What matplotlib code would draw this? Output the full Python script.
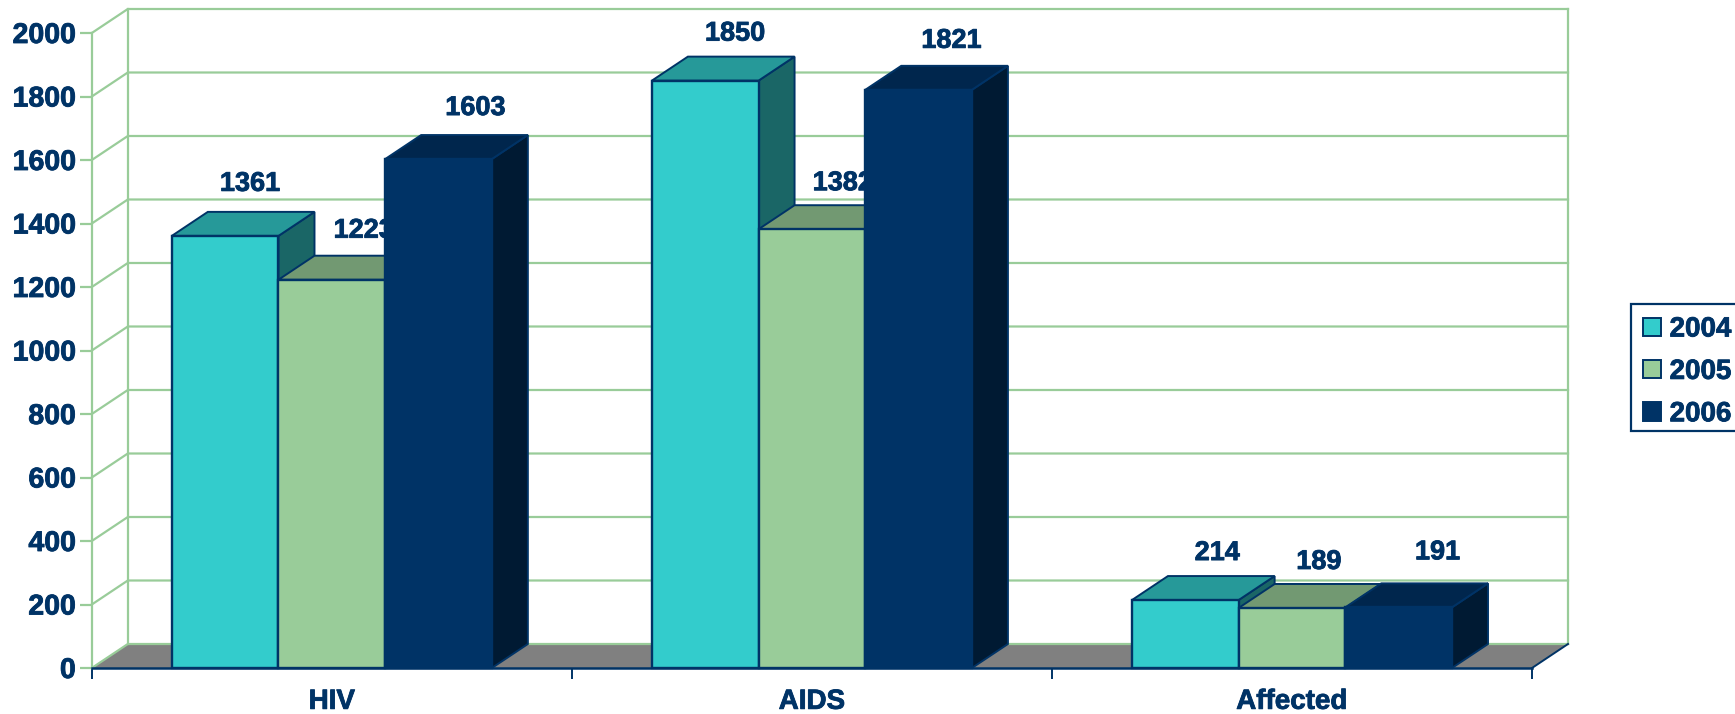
import matplotlib
matplotlib.use('Agg')
import matplotlib.pyplot as plt
import matplotlib.patheffects as pe
from matplotlib.patches import Patch, Rectangle

categories = ['HIV', 'AIDS', 'Affected']
years = ['2004', '2005', '2006']
values_2004 = [1361, 1850, 214]
values_2005 = [1223, 1382, 189]
values_2006 = [1603, 1821, 191]
y_ticks = [0, 200, 400, 600, 800, 1000, 1200, 1400, 1600, 1800, 2000]

NAVY = '#003366'
GRID = '#99CC99'
FLOOR = '#808080'
front_colors = ['#33CCCC', '#99CC99', '#003366']
top_colors = ['#269999', '#729972', '#00264D']
side_colors = ['#1A6666', '#4D664D', '#001A33']

W, H = 1735, 714
left, right, top, bottom = 91.8, 1532, 33, 668
DEPTH_X = 36 / 480            # category units
DEPTH_Y = 24 / 635 * 2000     # value units
BAR_W = 1 / 4.5
GRID_LW = 1.6
heavy = [pe.withStroke(linewidth=0.6, foreground=NAVY)]

# pixel nudges for the value labels, per series then per category
label_dx = [[25, 30, 32], [32, 31, 27], [37, 33, 39]]
label_dy = [[52, 47, 47], [49, 46, 46], [51, 49, 55]]

plt.rcParams['font.family'] = ['Liberation Sans', 'DejaVu Sans']
plt.rcParams['font.weight'] = 'bold'

fig = plt.figure(figsize=(W / 100, H / 100), dpi=100)
ax = fig.add_axes([left / W, 1 - bottom / H, (right - left) / W, (bottom - top) / H])
ax.set_xlim(0, 3)
ax.set_ylim(0, 2000)
for s in ax.spines.values():
    s.set_visible(False)
ax.patch.set_visible(False)

# back walls and floor
ax.fill([0, 3, 3 + DEPTH_X, DEPTH_X], [0, 0, DEPTH_Y, DEPTH_Y], color=FLOOR, lw=0, zorder=1, clip_on=False)
for v in y_ticks:
    ax.plot([0, DEPTH_X, 3 + DEPTH_X], [v, v + DEPTH_Y, v + DEPTH_Y], color=GRID, lw=GRID_LW, zorder=2,
            clip_on=False, solid_joinstyle='miter')
ax.plot([0, 0], [0, 2000], color=GRID, lw=GRID_LW, zorder=2, clip_on=False)
ax.plot([DEPTH_X, DEPTH_X], [DEPTH_Y, 2000 + DEPTH_Y], color=GRID, lw=GRID_LW, zorder=2, clip_on=False)
ax.plot([3 + DEPTH_X, 3 + DEPTH_X], [DEPTH_Y, 2000 + DEPTH_Y], color=GRID, lw=GRID_LW, zorder=2, clip_on=False)
ax.plot([3, 3 + DEPTH_X], [0, DEPTH_Y], color=NAVY, lw=1.4, zorder=3, clip_on=False)

# bars, painted left to right so each one covers the label of the one before
z = 10
series = [values_2004, values_2005, values_2006]
for c in range(len(categories)):
    for s in range(len(series)):
        val = series[s][c]
        x0 = c + 0.5 + (s - 1.5) * BAR_W
        x1 = x0 + BAR_W
        ax.text(x0 + BAR_W / 2, val, str(val), color=NAVY, fontsize=19.5, ha='center', va='center',
                zorder=z, clip_on=False, path_effects=heavy,
                transform=ax.transData + matplotlib.transforms.ScaledTranslation(
                    label_dx[s][c] / 100, label_dy[s][c] / 100, fig.dpi_scale_trans))
        ax.fill([x1, x1 + DEPTH_X, x1 + DEPTH_X, x1], [0, DEPTH_Y, val + DEPTH_Y, val],
                facecolor=side_colors[s], edgecolor=NAVY, lw=1.4, zorder=z + 1, clip_on=False)
        ax.fill([x0, x1, x1 + DEPTH_X, x0 + DEPTH_X], [val, val, val + DEPTH_Y, val + DEPTH_Y],
                facecolor=top_colors[s], edgecolor=NAVY, lw=1.4, zorder=z + 1, clip_on=False)
        ax.bar(x0, val, BAR_W, align='edge', color=front_colors[s], edgecolor=NAVY, lw=1.7,
               zorder=z + 2, clip_on=False)
        z += 3

ax.plot([0, 3], [0, 0], color=NAVY, lw=1.8, zorder=z, clip_on=False)

ax.set_yticks(y_ticks)
ax.set_yticklabels([str(v) for v in y_ticks], va='center_baseline', path_effects=heavy)
ax.tick_params(axis='y', length=8.6, width=GRID_LW, color=GRID, labelcolor=NAVY, labelsize=20.5, pad=3)
ax.set_xticks([0, 1, 2, 3])
ax.set_xticklabels([])
ax.set_xticks([0.5, 1.5, 2.5], minor=True)
ax.set_xticklabels(categories, minor=True, path_effects=heavy)
ax.tick_params(axis='x', which='major', length=8, width=1.4, color=NAVY)
ax.tick_params(axis='x', which='minor', length=0, labelcolor=NAVY, labelsize=20, pad=15)

# legend frame runs off the right edge of the picture
fig.add_artist(Rectangle((1630.7 / W, 1 - 430.7 / H), 120 / W, 126.7 / H, transform=fig.transFigure,
                         facecolor='white', edgecolor=NAVY, lw=1.6, clip_on=False))
handles = [Patch(facecolor=front_colors[i], edgecolor=NAVY, lw=1.4, label=years[i]) for i in range(3)]
leg = fig.legend(handles=handles, loc='upper left', bbox_to_anchor=(1630.7 / W, 1 - 304 / H),
                 fontsize=20, frameon=False, handlelength=0.63, handleheight=0.63,
                 handletextpad=0.32, borderpad=0.45, labelspacing=0.59, borderaxespad=0,
                 labelcolor=NAVY)
for t in leg.get_texts():
    t.set_path_effects(heavy)

fig.savefig('out.png', dpi=100, facecolor='white')
